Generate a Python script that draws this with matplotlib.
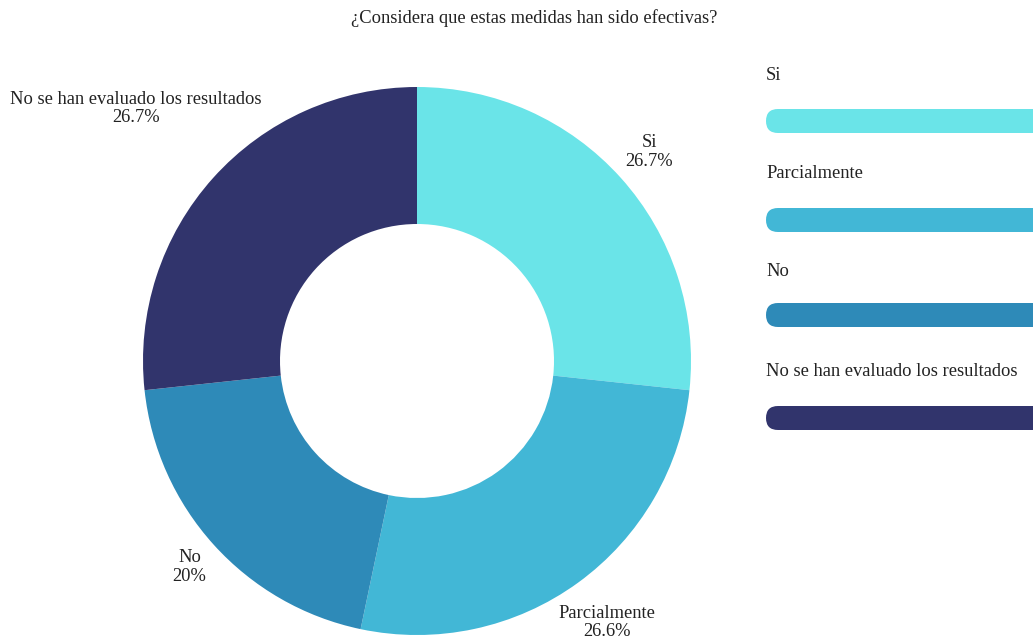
import numpy as np
import matplotlib.pyplot as plt
from matplotlib.patches import FancyBboxPatch

# Survey answers
categories = ['Si', 'Parcialmente', 'No', 'No se han evaluado los resultados']
values = [26.7, 26.6, 20, 26.7]
value_labels = ['26.7%', '26.6%', '20%', '26.7%']
colors = ['#6ae4e8', '#42b7d6', '#2e8ab8', '#31346c']
title = '¿Considera que estas medidas han sido efectivas?'

plt.rcParams['font.family'] = ['Liberation Serif', 'DejaVu Serif']
txt_color = '#222222'
fs = 13.3

W, H = 1033, 639
fig = plt.figure(figsize=(W / 100, H / 100), dpi=100)

# donut
cx, cy, r = 417, 361, 274
ax = fig.add_axes([(cx - r) / W, (H - cy - r) / H, 2 * r / W, 2 * r / H])
wedges, _ = ax.pie(values, colors=colors, startangle=90, counterclock=False,
                   radius=1, wedgeprops=dict(width=0.5, linewidth=0))
ax.set_xlim(-1, 1)
ax.set_ylim(-1, 1)
ax.axis('off')

# outside labels, distance per slice
dist = [1.14, 1.18, 1.12, 1.38]
total = sum(values)
start = 0
for i, v in enumerate(values):
    mid = (start + v / 2) / total * 2 * np.pi
    start += v
    x, y = np.sin(mid) * dist[i], np.cos(mid) * dist[i]
    ax.text(x, y, categories[i] + '\n' + value_labels[i], ha='center', va='center',
            fontsize=fs, color=txt_color, linespacing=1.12, clip_on=False)

fig.text(0.5 * (352 + 716) / W, 1 - 18 / H, title, ha='center', va='center',
         fontsize=fs, color=txt_color)

# legend with rounded bars on the right
lg = fig.add_axes([0, 0, 1, 1])
lg.set_xlim(0, W)
lg.set_ylim(H, 0)
lg.axis('off')
lg.patch.set_alpha(0)
text_y = [75, 174, 272, 371]
bar_y = [121, 220, 315, 418]
for i, name in enumerate(categories):
    lg.text(766, text_y[i], name, ha='left', va='center', fontsize=fs, color=txt_color)
    lg.add_patch(FancyBboxPatch((766, bar_y[i] - 12), 400, 24,
                                boxstyle='round,pad=0,rounding_size=12',
                                facecolor=colors[i], edgecolor='none'))

fig.savefig('out.png', dpi=100)
